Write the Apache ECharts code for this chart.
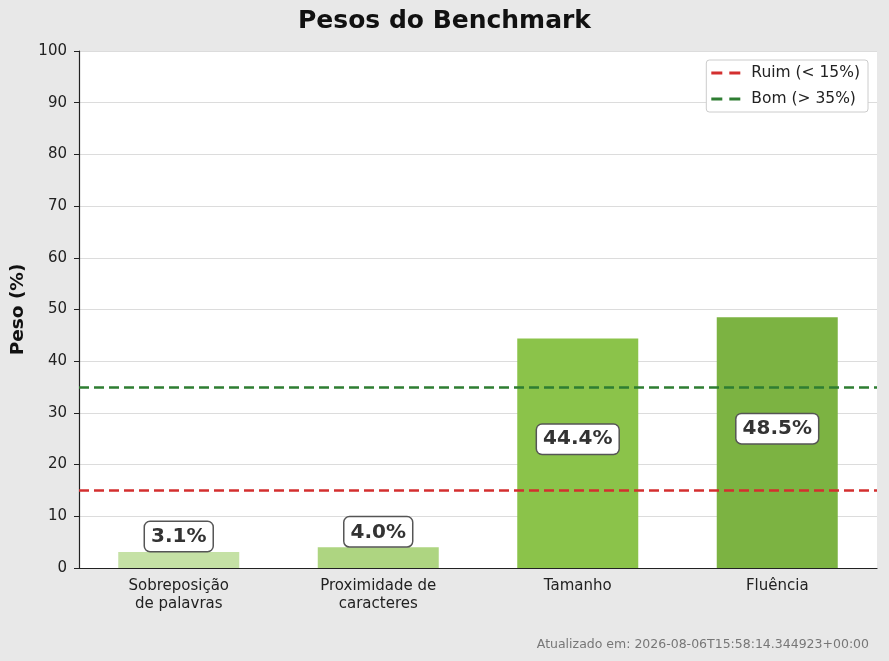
<!DOCTYPE html>
<html>
<head>
<meta charset="utf-8">
<script src="https://cdn.jsdelivr.net/npm/echarts@6/dist/echarts.min.js"></script>
<style>
  html, body { margin: 0; padding: 0; background: #e8e8e8; }
  #chart { width: 889px; height: 661px; }
</style>
</head>
<body>
<div id="chart"></div>
<script>
// data
const categories = ['Sobreposição\nde palavras', 'Proximidade de\ncaracteres', 'Tamanho', 'Fluência']
const weights = [3.1, 4.0, 44.4, 48.5]
const barColors = ['#c5e1a5', '#aed581', '#8bc34a', '#7cb342']
const thresholdNames = ['Ruim (< 15%)', 'Bom (> 35%)']
const thresholdValues = [15, 35]
const thresholdColors = ['#d32f2f', '#2e7d32']
const yTicks = { min: 0, max: 100, interval: 10 }
const updatedAt = 'Atualizado em: 2026-08-06T15:58:14.344923+00:00'

const font = 'DejaVu Sans'
const chart = echarts.init(document.getElementById('chart'), null, { renderer: 'canvas' })

const labelBox = {
  show: true,
  formatter: p => p.value.toFixed(1) + '%',
  fontFamily: font,
  fontSize: 20,
  fontWeight: 'bold',
  color: '#333',
  backgroundColor: '#fff',
  borderColor: '#555',
  borderWidth: 1.5,
  borderRadius: 5,
  padding: [5, 6, 4, 6]
}

const barData = weights.map((v, i) => ({
  value: v,
  itemStyle: { color: barColors[i] },
  label: v > 10
    ? Object.assign({}, labelBox, { position: 'inside', offset: [0, -14] })
    : Object.assign({}, labelBox, { position: 'top', distance: 1 })
}))

const dash = 'path://M0,0h11v3h-11z M18,0h11v3h-11z'

const lineSeries = thresholdValues.map((v, i) => ({
  name: thresholdNames[i],
  type: 'line',
  data: [],
  z: 1,
  color: thresholdColors[i],
  markLine: {
    silent: true,
    symbol: 'none',
    label: { show: false },
    lineStyle: { color: thresholdColors[i], type: [10, 5], width: 2.5 },
    data: [{ yAxis: v }]
  }
}))

chart.setOption({
  animation: false,
  backgroundColor: '#e8e8e8',
  title: {
    text: 'Pesos do Benchmark',
    left: 'center',
    top: 4,
    textStyle: { fontFamily: font, fontSize: 25, fontWeight: 'bold', color: '#111' }
  },
  legend: {
    right: 21,
    top: 60,
    orient: 'vertical',
    itemWidth: 29,
    itemHeight: 3,
    itemGap: 10,
    padding: [5, 8, 5, 5],
    backgroundColor: '#fff',
    borderColor: '#ccc',
    borderWidth: 1,
    borderRadius: 3,
    textStyle: { fontFamily: font, fontSize: 15.5, color: '#222', padding: [0, 0, 0, 6] },
    data: thresholdNames.map((n, i) => ({ name: n, icon: dash, itemStyle: { color: thresholdColors[i] } }))
  },
  grid: { left: 79, right: 12, top: 51, bottom: 93, backgroundColor: '#fff', show: true, borderWidth: 0 },
  xAxis: {
    type: 'category',
    data: categories,
    axisLine: { lineStyle: { color: '#222', width: 1.2 } },
    axisTick: { alignWithLabel: true, length: 5, lineStyle: { color: '#222' } },
    axisLabel: { fontFamily: font, fontSize: 15, color: '#222', margin: 9, lineHeight: 18 }
  },
  yAxis: {
    type: 'value',
    min: yTicks.min,
    max: yTicks.max,
    interval: yTicks.interval,
    name: 'Peso (%)',
    nameLocation: 'middle',
    nameGap: 50,
    nameTextStyle: { fontFamily: font, fontSize: 18.5, fontWeight: 'bold', color: '#111' },
    axisLine: { show: true, lineStyle: { color: '#222', width: 1.2 } },
    axisTick: { show: true, length: 5, lineStyle: { color: '#222' } },
    axisLabel: { fontFamily: font, fontSize: 15, color: '#222', margin: 12 },
    splitLine: { lineStyle: { color: '#dcdcdc', width: 1 } }
  },
  series: [
    {
      type: 'bar',
      data: barData,
      barWidth: 121,
      z: 2
    },
    ...lineSeries
  ],
  graphic: [{
    type: 'text',
    right: 20,
    top: 638,
    style: { text: updatedAt, fontFamily: font, fontSize: 12.5, fill: '#777' }
  }]
})
</script>
</body>
</html>
